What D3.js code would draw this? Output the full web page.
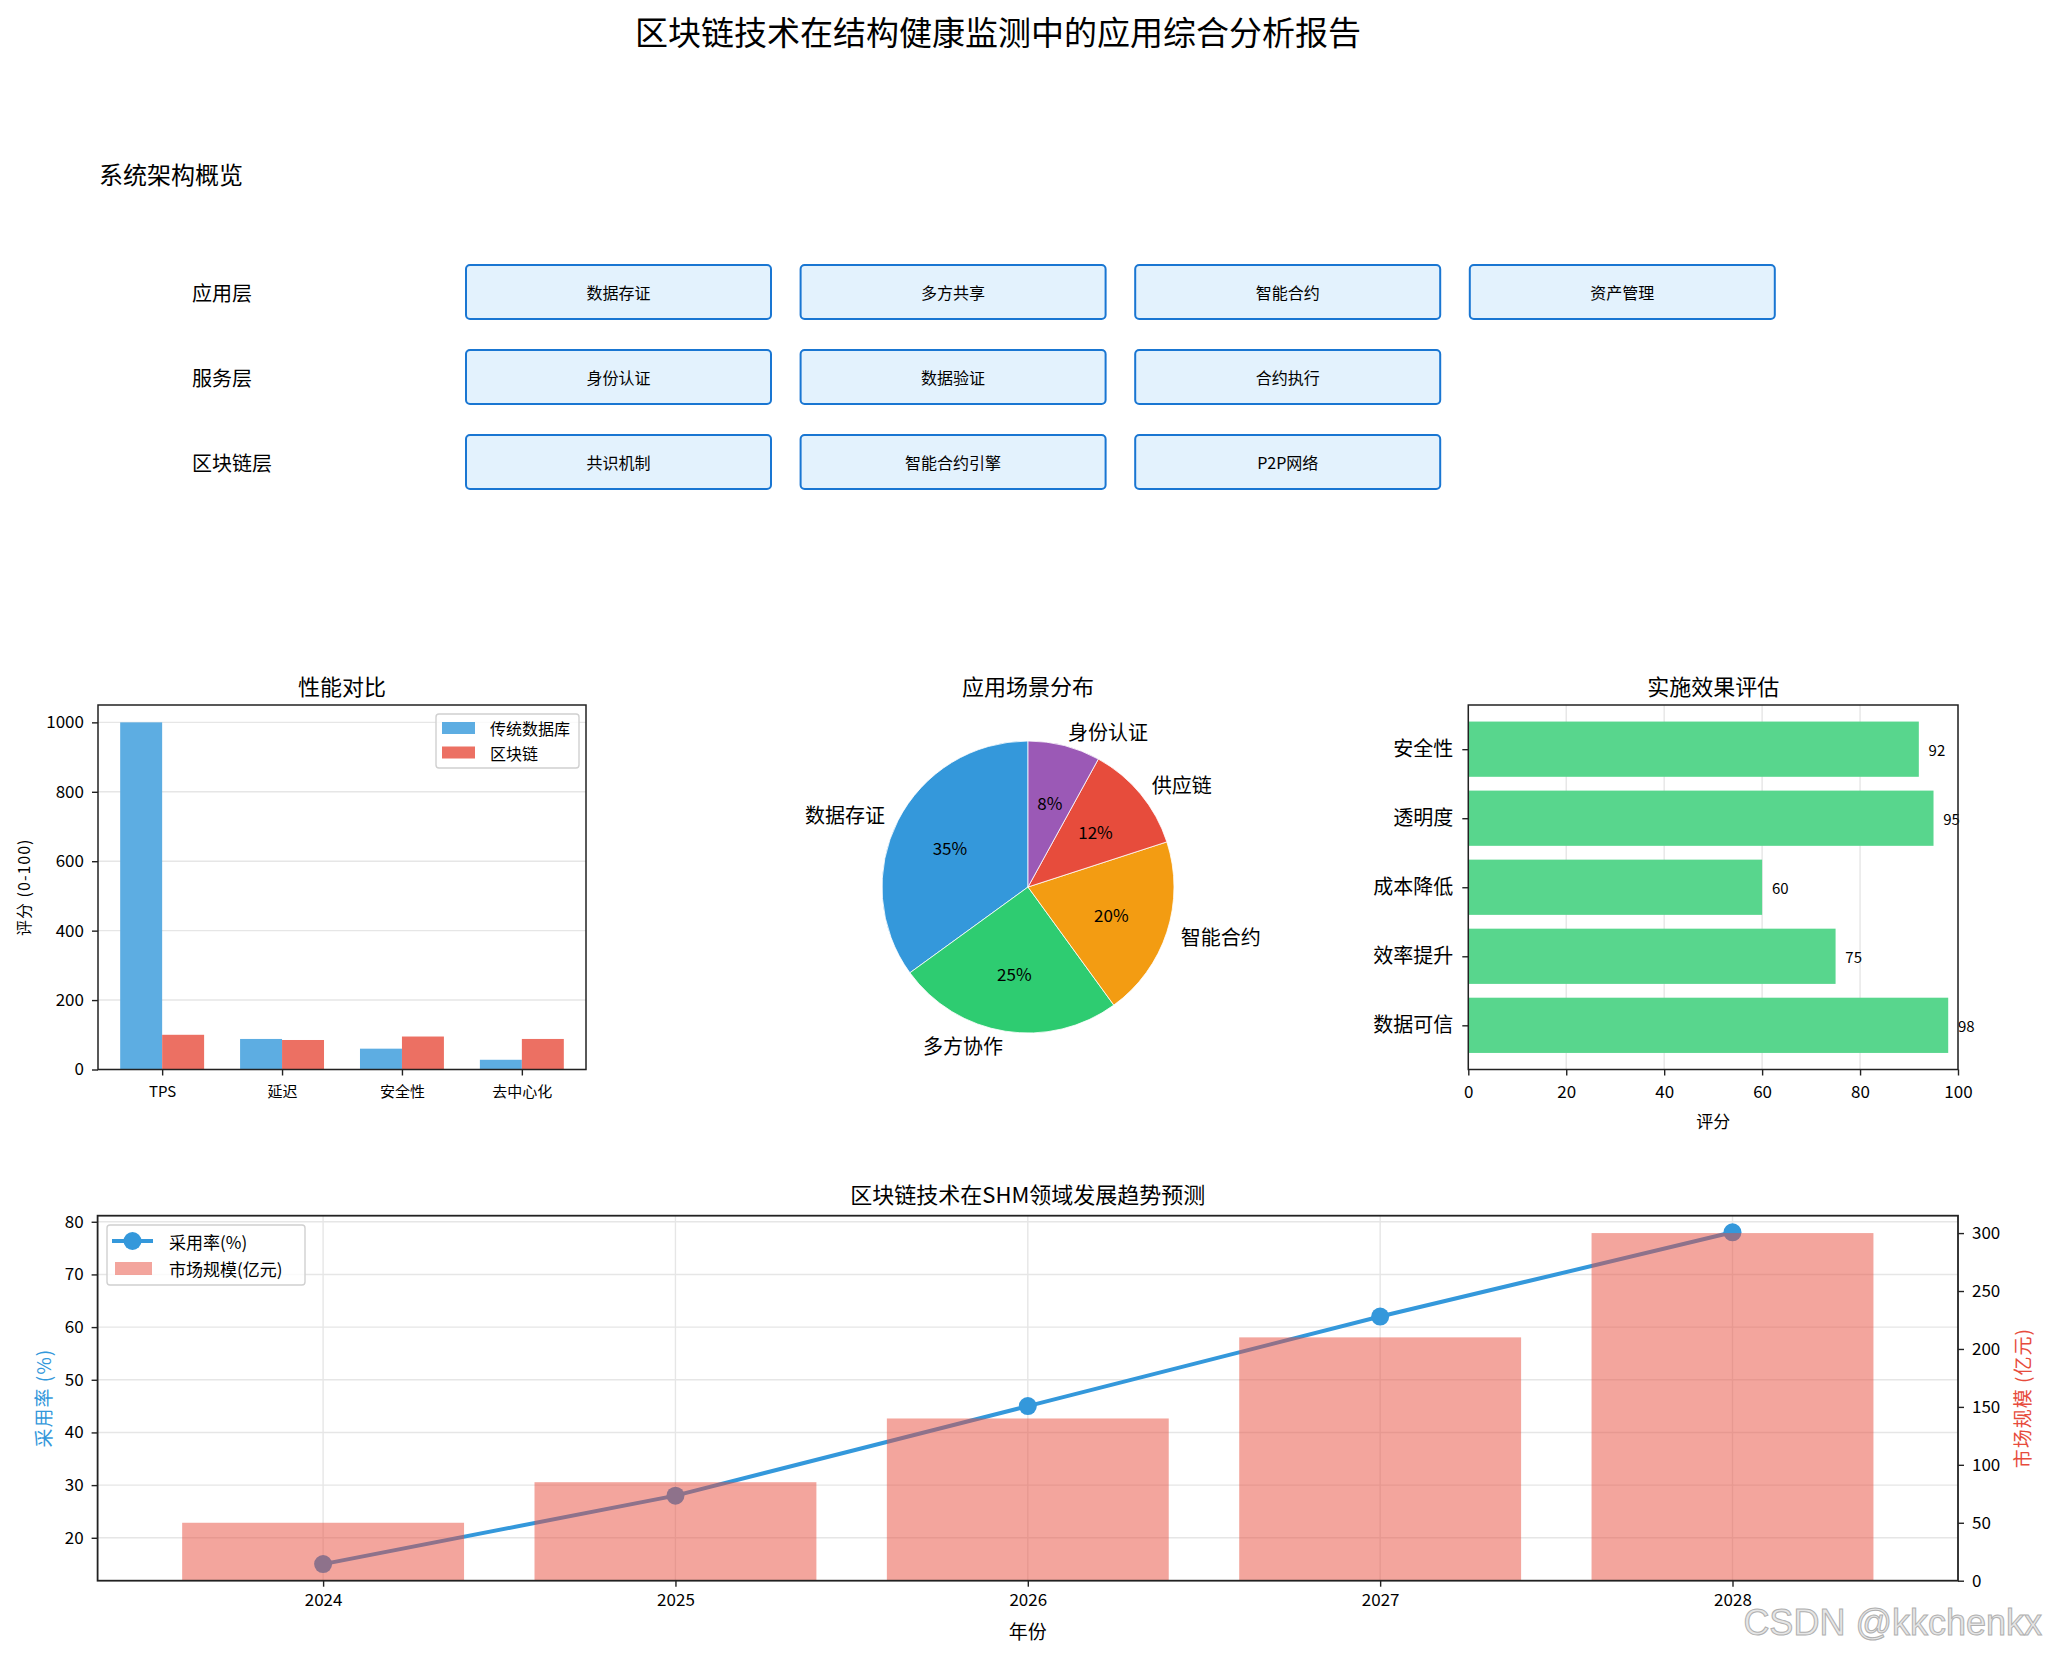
<!DOCTYPE html>
<html><head><meta charset="utf-8">
<script src="https://cdn.jsdelivr.net/npm/d3@7"></script>
<style>
body{margin:0;background:#fff;}
svg{display:block;}
text{font-family:"Noto Sans CJK SC","Noto Sans",sans-serif;fill:#000;}
</style>
</head><body>
<svg id="c" width="2046" height="1656"></svg>
<script>
// ---------- DATA ----------
const mainTitle = "区块链技术在结构健康监测中的应用综合分析报告";
const archTitle = "系统架构概览";
const archLayers = ["应用层", "服务层", "区块链层"];
const archModules = [
  ["数据存证", "多方共享", "智能合约", "资产管理"],
  ["身份认证", "数据验证", "合约执行"],
  ["共识机制", "智能合约引擎", "P2P网络"]
];

const perfTitle = "性能对比";
const perfCats = ["TPS", "延迟", "安全性", "去中心化"];
const perfSeries = ["传统数据库", "区块链"];
const tradValues = [1000, 88, 60, 28];
const chainValues = [100, 85, 95, 88];
const perfTicks = [0, 200, 400, 600, 800, 1000];

const pieTitle = "应用场景分布";
const pieCats = ["数据存证", "多方协作", "智能合约", "供应链", "身份认证"];
const pieValues = [35, 25, 20, 12, 8];
const pieColors = ["#3498DB", "#2ECC71", "#F39C12", "#E74C3C", "#9B59B6"];

const effectTitle = "实施效果评估";
const effectCats = ["数据可信", "效率提升", "成本降低", "透明度", "安全性"];
const effectValues = [98, 75, 60, 95, 92];
const effectTicks = [0, 20, 40, 60, 80, 100];

const trendTitle = "区块链技术在SHM领域发展趋势预测";
const years = [2024, 2025, 2026, 2027, 2028];
const adoption = [15, 28, 45, 62, 78];
const market = [50, 85, 140, 210, 300];
const adoptTicks = [20, 30, 40, 50, 60, 70, 80];
const marketTicks = [0, 50, 100, 150, 200, 250, 300];

// ---------- DRAWING ----------
const svg = d3.select("#c");
const FONT = '"Noto Sans CJK SC","Noto Sans",sans-serif';
const GRID = "#e6e6e6";
const SPINE = "#222";

function styleAxis(g, size) {
  g.attr("font-size", size).attr("font-family", FONT);
  g.select(".domain").remove();
  g.selectAll(".tick line").attr("stroke", SPINE).attr("stroke-width", 1.4);
  g.selectAll(".tick text").attr("fill", "#000");
}
function frame(x0, y0, x1, y1, w) {
  svg.append("rect").attr("x", x0).attr("y", y0).attr("width", x1 - x0).attr("height", y1 - y0)
    .attr("fill", "none").attr("stroke", SPINE).attr("stroke-width", w || 1.5);
}

// Main title
svg.append("text").attr("x", 998).attr("y", 31).attr("text-anchor", "middle")
  .attr("dominant-baseline", "central").attr("font-size", 33).text(mainTitle);

// ---- Architecture overview ----
svg.append("text").attr("x", 99).attr("y", 173).attr("dominant-baseline", "central")
  .attr("font-size", 24).text(archTitle);
const colX = d3.scaleLinear().domain([0, 1]).range([466, 800.6]);
const rowY = d3.scaleLinear().domain([0, 1]).range([265, 350]);
const boxW = 305, boxH = 54;
archLayers.forEach((layer, r) => {
  svg.append("text").attr("x", 192).attr("y", rowY(r) + boxH / 2).attr("dominant-baseline", "central")
    .attr("font-size", 20).text(layer);
  archModules[r].forEach((m, c) => {
    svg.append("rect").attr("x", colX(c)).attr("y", rowY(r)).attr("width", boxW).attr("height", boxH)
      .attr("rx", 4).attr("fill", "#E3F2FD").attr("stroke", "#1976D2").attr("stroke-width", 2);
    svg.append("text").attr("x", colX(c) + boxW / 2).attr("y", rowY(r) + boxH / 2)
      .attr("text-anchor", "middle").attr("dominant-baseline", "central").attr("font-size", 16).text(m);
  });
});

// ---- Performance comparison ----
(function () {
  const L = 98, R = 586, T = 705, B = 1069.5;
  const x = d3.scaleLinear().domain([-0.535, 3.535]).range([L, R]);
  const y = d3.scaleLinear().domain([0, 1050]).range([B, T]);
  svg.append("text").attr("x", (L + R) / 2).attr("y", 685).attr("text-anchor", "middle")
    .attr("dominant-baseline", "central").attr("font-size", 22).text(perfTitle);
  svg.append("g").selectAll("line").data(perfTicks).join("line")
    .attr("x1", L).attr("x2", R).attr("y1", d => y(d)).attr("y2", d => y(d))
    .attr("stroke", GRID).attr("stroke-width", 1.4);
  const w = 0.35;
  svg.append("g").selectAll("rect").data(tradValues).join("rect")
    .attr("x", (d, i) => x(i - w)).attr("width", (d, i) => x(i) - x(i - w))
    .attr("y", d => y(d)).attr("height", d => B - y(d)).attr("fill", "#5DADE2");
  svg.append("g").selectAll("rect").data(chainValues).join("rect")
    .attr("x", (d, i) => x(i)).attr("width", (d, i) => x(i + w) - x(i))
    .attr("y", d => y(d)).attr("height", d => B - y(d)).attr("fill", "#EC7063");
  const gx = svg.append("g").attr("transform", `translate(0,${B})`)
    .call(d3.axisBottom(x).tickValues(d3.range(perfCats.length)).tickFormat(i => perfCats[i]).tickSize(6).tickPadding(11));
  styleAxis(gx, 15);
  const gy = svg.append("g").attr("transform", `translate(${L},0)`)
    .call(d3.axisLeft(y).tickValues(perfTicks).tickFormat(d3.format("d")).tickSize(6).tickPadding(8));
  styleAxis(gy, 17);
  frame(L, T, R, B);
  svg.append("text").attr("transform", `translate(23,${(T + B) / 2}) rotate(-90)`)
    .attr("text-anchor", "middle").attr("dominant-baseline", "central").attr("font-size", 16)
    .attr("letter-spacing", 1).text("评分 (0-100)");
  // legend
  svg.append("rect").attr("x", 436).attr("y", 714).attr("width", 143).attr("height", 54).attr("rx", 3)
    .attr("fill", "#fff").attr("fill-opacity", 0.8).attr("stroke", "#d0d0d0").attr("stroke-width", 1.4);
  const legCols = ["#5DADE2", "#EC7063"];
  perfSeries.forEach((s, i) => {
    svg.append("rect").attr("x", 442).attr("y", 722 + i * 24.5).attr("width", 33).attr("height", 12).attr("fill", legCols[i]);
    svg.append("text").attr("x", 490).attr("y", 728 + i * 24.5).attr("dominant-baseline", "central")
      .attr("font-size", 16).text(s);
  });
})();

// ---- Pie ----
(function () {
  const cx = 1028, cy = 887, r = 146;
  svg.append("text").attr("x", cx).attr("y", 685).attr("text-anchor", "middle")
    .attr("dominant-baseline", "central").attr("font-size", 22).text(pieTitle);
  const pie = d3.pie().sort(null).startAngle(0).endAngle(-2 * Math.PI);
  const arcs = pie(pieValues);
  const arc = d3.arc().innerRadius(0).outerRadius(r);
  const g = svg.append("g").attr("transform", `translate(${cx},${cy})`);
  g.selectAll("path").data(arcs).join("path").attr("d", arc)
    .attr("fill", (d, i) => pieColors[i]).attr("stroke", "#fff").attr("stroke-width", 0.8);
  const total = d3.sum(pieValues);
  arcs.forEach((a, i) => {
    const m = (a.startAngle + a.endAngle) / 2;
    const lx = 1.1 * r * Math.sin(m), ly = -1.1 * r * Math.cos(m);
    g.append("text").attr("x", lx).attr("y", ly).attr("text-anchor", lx > 0 ? "start" : "end")
      .attr("dominant-baseline", "central").attr("font-size", 20).text(pieCats[i]);
    const px = 0.6 * r * Math.sin(m), py = -0.6 * r * Math.cos(m);
    g.append("text").attr("x", px).attr("y", py).attr("text-anchor", "middle")
      .attr("dominant-baseline", "central").attr("font-size", 17)
      .text(Math.round(pieValues[i] / total * 100) + "%");
  });
})();

// ---- Effect evaluation (horizontal bars) ----
(function () {
  const L = 1468.3, R = 1958, T = 705, B = 1069.5;
  const x = d3.scaleLinear().domain([0, 100]).range([L, R]);
  const y = d3.scaleLinear().domain([-0.64, 4.64]).range([B, T]);
  svg.append("text").attr("x", (L + R) / 2).attr("y", 685).attr("text-anchor", "middle")
    .attr("dominant-baseline", "central").attr("font-size", 22).text(effectTitle);
  svg.append("g").selectAll("line").data(effectTicks).join("line")
    .attr("x1", d => x(d)).attr("x2", d => x(d)).attr("y1", T).attr("y2", B)
    .attr("stroke", GRID).attr("stroke-width", 1.4);
  const h = 0.8;
  svg.append("g").selectAll("rect").data(effectValues).join("rect")
    .attr("x", L).attr("width", d => x(d) - L)
    .attr("y", (d, i) => y(i + h / 2)).attr("height", (d, i) => y(i - h / 2) - y(i + h / 2))
    .attr("fill", "#58D68D");
  svg.append("g").selectAll("text").data(effectValues).join("text")
    .attr("x", d => x(d + 2)).attr("y", (d, i) => y(i)).attr("dominant-baseline", "central")
    .attr("font-size", 15).text(d => d);
  const gx = svg.append("g").attr("transform", `translate(0,${B})`)
    .call(d3.axisBottom(x).tickValues(effectTicks).tickSize(6).tickPadding(10));
  styleAxis(gx, 17);
  const gy = svg.append("g").attr("transform", `translate(${L},0)`)
    .call(d3.axisLeft(y).tickValues(d3.range(effectCats.length)).tickFormat(i => effectCats[i]).tickSize(6).tickPadding(9));
  styleAxis(gy, 20);
  frame(L, T, R, B);
  svg.append("text").attr("x", (L + R) / 2).attr("y", 1120).attr("text-anchor", "middle")
    .attr("dominant-baseline", "central").attr("font-size", 17).text("评分");
})();

// ---- Trend (line + bars, twin axes) ----
(function () {
  const L = 97.6, R = 1958, T = 1215.7, B = 1580.7;
  const x = d3.scaleLinear().domain([-0.64, 4.64]).range([L, R]);
  const yL = d3.scaleLinear().domain([11.85, 81.15]).range([B, T]);
  const yR = d3.scaleLinear().domain([0, 315]).range([B, T]);
  svg.append("text").attr("x", (L + R) / 2).attr("y", 1193).attr("text-anchor", "middle")
    .attr("dominant-baseline", "central").attr("font-size", 22).text(trendTitle);
  // grid (left axis)
  svg.append("g").selectAll("line").data(adoptTicks).join("line")
    .attr("x1", L).attr("x2", R).attr("y1", d => yL(d)).attr("y2", d => yL(d))
    .attr("stroke", GRID).attr("stroke-width", 1.4);
  svg.append("g").selectAll("line").data(years).join("line")
    .attr("x1", (d, i) => x(i)).attr("x2", (d, i) => x(i)).attr("y1", T).attr("y2", B)
    .attr("stroke", GRID).attr("stroke-width", 1.4);
  // line
  const line = d3.line().x((d, i) => x(i)).y(d => yL(d));
  svg.append("path").datum(adoption).attr("d", line).attr("fill", "none")
    .attr("stroke", "#3498DB").attr("stroke-width", 4);
  svg.append("g").selectAll("circle").data(adoption).join("circle")
    .attr("cx", (d, i) => x(i)).attr("cy", d => yL(d)).attr("r", 9).attr("fill", "#3498DB");
  // bars (twin axis, drawn on top, alpha .5)
  svg.append("g").selectAll("rect").data(market).join("rect")
    .attr("x", (d, i) => x(i - 0.4)).attr("width", (d, i) => x(i + 0.4) - x(i - 0.4))
    .attr("y", d => yR(d)).attr("height", d => B - yR(d))
    .attr("fill", "#E74C3C").attr("fill-opacity", 0.5);
  const gx = svg.append("g").attr("transform", `translate(0,${B})`)
    .call(d3.axisBottom(x).tickValues(d3.range(years.length)).tickFormat(i => years[i]).tickSize(6).tickPadding(7));
  styleAxis(gx, 17);
  const gyL = svg.append("g").attr("transform", `translate(${L},0)`)
    .call(d3.axisLeft(yL).tickValues(adoptTicks).tickSize(6).tickPadding(8));
  styleAxis(gyL, 17);
  const gyR = svg.append("g").attr("transform", `translate(${R},0)`)
    .call(d3.axisRight(yR).tickValues(marketTicks).tickSize(6).tickPadding(8));
  styleAxis(gyR, 17);
  frame(L, T, R, B, 1.8);
  svg.append("text").attr("x", (L + R) / 2).attr("y", 1630).attr("text-anchor", "middle")
    .attr("dominant-baseline", "central").attr("font-size", 19).text("年份");
  svg.append("text").attr("transform", `translate(42,${(T + B) / 2}) rotate(-90)`)
    .attr("text-anchor", "middle").attr("dominant-baseline", "central").attr("font-size", 19)
    .attr("letter-spacing", 1).style("fill", "#3498DB").text("采用率 (%)");
  svg.append("text").attr("transform", `translate(2021,${(T + B) / 2}) rotate(-90)`)
    .attr("text-anchor", "middle").attr("dominant-baseline", "central").attr("font-size", 19)
    .attr("letter-spacing", 1).style("fill", "#E74C3C").text("市场规模 (亿元)");
  // legend
  svg.append("rect").attr("x", 107).attr("y", 1225).attr("width", 198).attr("height", 60).attr("rx", 3)
    .attr("fill", "#fff").attr("fill-opacity", 0.8).attr("stroke", "#d0d0d0").attr("stroke-width", 1.4);
  svg.append("line").attr("x1", 112).attr("x2", 153).attr("y1", 1241).attr("y2", 1241)
    .attr("stroke", "#3498DB").attr("stroke-width", 4);
  svg.append("circle").attr("cx", 132.5).attr("cy", 1241).attr("r", 9).attr("fill", "#3498DB");
  svg.append("text").attr("x", 169).attr("y", 1241).attr("dominant-baseline", "central")
    .attr("font-size", 17).text("采用率(%)");
  svg.append("rect").attr("x", 115).attr("y", 1262).attr("width", 37).attr("height", 13)
    .attr("fill", "#E74C3C").attr("fill-opacity", 0.5);
  svg.append("text").attr("x", 169).attr("y", 1268).attr("dominant-baseline", "central")
    .attr("font-size", 17).text("市场规模(亿元)");
})();

// watermark
svg.append("text").attr("x", 2042).attr("y", 1622).attr("text-anchor", "end")
  .attr("dominant-baseline", "central").attr("font-size", 36)
  .style("font-family", '"Liberation Sans Narrow","Liberation Sans",sans-serif')
  .style("fill", "#e6e6e6").attr("stroke", "#b0b0b0").attr("stroke-width", 1).text("CSDN @kkchenkx");
</script>
</body></html>
